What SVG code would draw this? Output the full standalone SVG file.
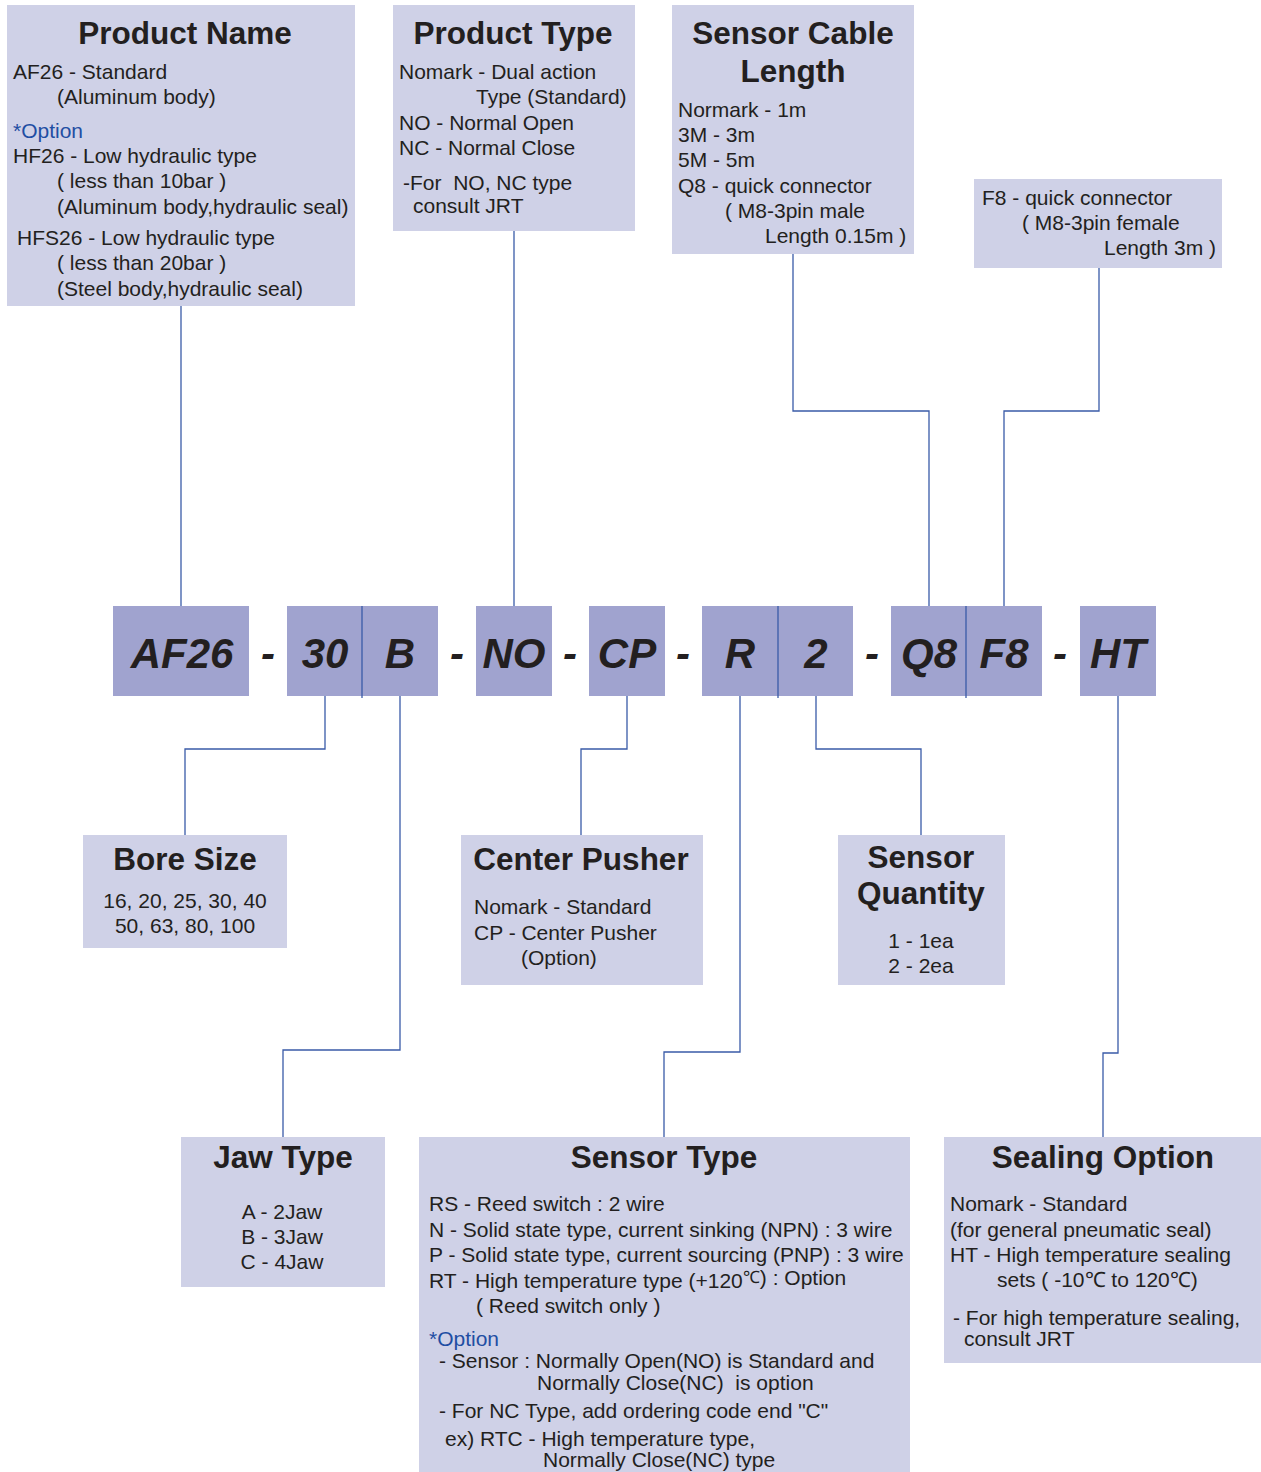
<svg xmlns="http://www.w3.org/2000/svg" width="1261" height="1472" viewBox="0 0 1261 1472">
<style>
.box{fill:#cfd1e7}
.code{fill:#a0a3cf}
.t{font-family:"Liberation Sans",Arial,sans-serif;font-size:31.5px;font-weight:bold;fill:#231f20;text-anchor:middle}
.b{font-family:"Liberation Sans",Arial,sans-serif;font-size:21px;fill:#231f20}
.c{text-anchor:middle}
.o{fill:#1f4ea3}
.k{font-family:"Liberation Sans",Arial,sans-serif;font-size:42px;font-weight:bold;font-style:italic;fill:#231f20;text-anchor:middle}
.ln{fill:none;stroke:#3a5ba8;stroke-width:1.3}
</style>
<rect width="1261" height="1472" fill="#ffffff"/>
<g id="connectors">
<path class="ln" d="M181,306 V606"/>
<path class="ln" d="M514,231 V606"/>
<path class="ln" d="M793,254 V411 H929 V606"/>
<path class="ln" d="M1099,268 V411 H1004 V606"/>
<path class="ln" d="M325,696 V749 H185 V835"/>
<path class="ln" d="M400,696 V1050 H283 V1137"/>
<path class="ln" d="M627,696 V749 H581 V835"/>
<path class="ln" d="M740,696 V1052 H664 V1137"/>
<path class="ln" d="M816,696 V749 H921 V835"/>
<path class="ln" d="M1118,696 V1053 H1103 V1137"/>
</g>
<g id="product-name">
<rect class="box" x="7" y="5" width="348" height="301"/>
<text class="t" x="185" y="44">Product Name</text>
<text class="b" x="13" y="79">AF26 - Standard</text>
<text class="b" x="57" y="104">(Aluminum body)</text>
<text class="b o" x="13" y="138">*Option</text>
<text class="b" x="13" y="163">HF26 - Low hydraulic type</text>
<text class="b" x="57" y="188">( less than 10bar )</text>
<text class="b" x="57" y="214">(Aluminum body,hydraulic seal)</text>
<text class="b" x="17" y="245">HFS26 - Low hydraulic type</text>
<text class="b" x="57" y="270">( less than 20bar )</text>
<text class="b" x="57" y="296">(Steel body,hydraulic seal)</text>
</g>
<g id="product-type">
<rect class="box" x="393" y="5" width="242" height="226"/>
<text class="t" x="513" y="44">Product Type</text>
<text class="b" x="399" y="79">Nomark - Dual action</text>
<text class="b" x="476" y="104">Type (Standard)</text>
<text class="b" x="399" y="130">NO - Normal Open</text>
<text class="b" x="399" y="155">NC - Normal Close</text>
<text class="b" x="403" y="190" xml:space="preserve">-For  NO, NC type</text>
<text class="b" x="413" y="213">consult JRT</text>
</g>
<g id="sensor-cable-length">
<rect class="box" x="672" y="5" width="242" height="249"/>
<text class="t" x="793" y="44">Sensor Cable</text>
<text class="t" x="793" y="82">Length</text>
<text class="b" x="678" y="117">Normark - 1m</text>
<text class="b" x="678" y="142">3M - 3m</text>
<text class="b" x="678" y="167">5M - 5m</text>
<text class="b" x="678" y="193">Q8 - quick connector</text>
<text class="b" x="725" y="218">( M8-3pin male</text>
<text class="b" x="765" y="243">Length 0.15m )</text>
</g>
<g id="f8-connector">
<rect class="box" x="974" y="179" width="248" height="89"/>
<text class="b" x="982" y="205">F8 - quick connector</text>
<text class="b" x="1022" y="230">( M8-3pin female</text>
<text class="b" x="1104" y="255">Length 3m )</text>
</g>
<g id="code-AF26"><rect class="code" x="113" y="606" width="136" height="90"/><text class="k" x="182" y="668">AF26</text></g>
<g id="code-30"><rect class="code" x="287" y="606" width="75" height="90"/><text class="k" x="325" y="668">30</text></g>
<g id="code-B"><rect class="code" x="362" y="606" width="76" height="90"/><text class="k" x="400" y="668">B</text></g>
<g id="code-NO"><rect class="code" x="476" y="606" width="76" height="90"/><text class="k" x="514" y="668">NO</text></g>
<g id="code-CP"><rect class="code" x="589" y="606" width="76" height="90"/><text class="k" x="627" y="668">CP</text></g>
<g id="code-R"><rect class="code" x="702" y="606" width="76" height="90"/><text class="k" x="740" y="668">R</text></g>
<g id="code-2"><rect class="code" x="778" y="606" width="75" height="90"/><text class="k" x="816" y="668">2</text></g>
<g id="code-Q8"><rect class="code" x="891" y="606" width="75" height="90"/><text class="k" x="929" y="668">Q8</text></g>
<g id="code-F8"><rect class="code" x="966" y="606" width="76" height="90"/><text class="k" x="1004" y="668">F8</text></g>
<g id="code-HT"><rect class="code" x="1080" y="606" width="76" height="90"/><text class="k" x="1118" y="668">HT</text></g>
<g id="dividers">
<path class="ln" d="M362,606 V698 M778,606 V698 M966,606 V698"/>
</g>
<g id="dashes">
<text class="k" x="268" y="668">-</text>
<text class="k" x="457" y="668">-</text>
<text class="k" x="570" y="668">-</text>
<text class="k" x="683" y="668">-</text>
<text class="k" x="872" y="668">-</text>
<text class="k" x="1060" y="668">-</text>
</g>
<g id="bore-size">
<rect class="box" x="83" y="835" width="204" height="113"/>
<text class="t" x="185" y="870">Bore Size</text>
<text class="b c" x="185" y="908">16, 20, 25, 30, 40</text>
<text class="b c" x="185" y="933">50, 63, 80, 100</text>
</g>
<g id="center-pusher">
<rect class="box" x="461" y="835" width="242" height="150"/>
<text class="t" x="581" y="870">Center Pusher</text>
<text class="b" x="474" y="914">Nomark - Standard</text>
<text class="b" x="474" y="940">CP - Center Pusher</text>
<text class="b" x="521" y="965">(Option)</text>
</g>
<g id="sensor-quantity">
<rect class="box" x="838" y="835" width="167" height="150"/>
<text class="t" x="921" y="868">Sensor</text>
<text class="t" x="921" y="904">Quantity</text>
<text class="b c" x="921" y="948">1 - 1ea</text>
<text class="b c" x="921" y="973">2 - 2ea</text>
</g>
<g id="jaw-type">
<rect class="box" x="181" y="1137" width="204" height="150"/>
<text class="t" x="283" y="1168">Jaw Type</text>
<text class="b c" x="282" y="1219">A - 2Jaw</text>
<text class="b c" x="282" y="1244">B - 3Jaw</text>
<text class="b c" x="282" y="1269">C - 4Jaw</text>
</g>
<g id="sensor-type">
<rect class="box" x="419" y="1137" width="491" height="335"/>
<text class="t" x="664" y="1168">Sensor Type</text>
<text class="b" x="429" y="1211">RS - Reed switch : 2 wire</text>
<text class="b" x="429" y="1237">N - Solid state type, current sinking (NPN) : 3 wire</text>
<text class="b" x="429" y="1262">P - Solid state type, current sourcing (PNP) : 3 wire</text>
<text class="b" x="429" y="1288">RT - High temperature type (+120<tspan dy="-5" font-size="17">℃</tspan><tspan dy="2">) : Option</tspan></text>
<text class="b" x="476" y="1313">( Reed switch only )</text>
<text class="b o" x="429" y="1346">*Option</text>
<text class="b" x="439" y="1368">- Sensor : Normally Open(NO) is Standard and</text>
<text class="b" x="537" y="1390" xml:space="preserve">Normally Close(NC)  is option</text>
<text class="b" x="439" y="1418">- For NC Type, add ordering code end "C"</text>
<text class="b" x="445" y="1446">ex) RTC - High temperature type,</text>
<text class="b" x="543" y="1467">Normally Close(NC) type</text>
</g>
<g id="sealing-option">
<rect class="box" x="944" y="1137" width="317" height="226"/>
<text class="t" x="1103" y="1168">Sealing Option</text>
<text class="b" x="950" y="1211">Nomark - Standard</text>
<text class="b" x="950" y="1237">(for general pneumatic seal)</text>
<text class="b" x="950" y="1262">HT - High temperature sealing</text>
<text class="b" x="997" y="1287">sets ( -10℃ to 120℃)</text>
<text class="b" x="953" y="1325">- For high temperature sealing,</text>
<text class="b" x="964" y="1346">consult JRT</text>
</g>
</svg>
